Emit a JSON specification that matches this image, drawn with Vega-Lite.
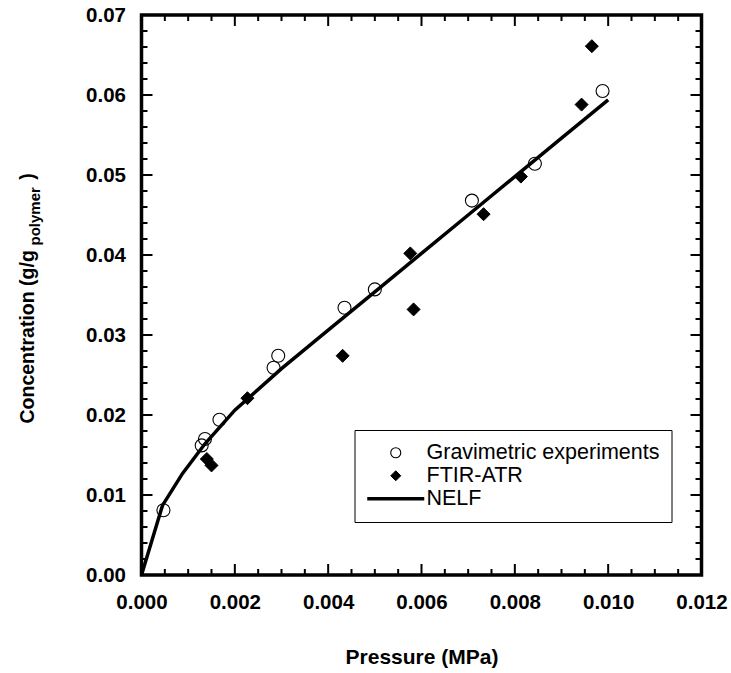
{
  "$schema": "https://vega.github.io/schema/vega-lite/v6.json",
  "width": 560,
  "height": 560,
  "autosize": {"type": "none"},
  "padding": {"left": 141.5, "top": 15, "right": 29.5, "bottom": 98},
  "background": "white",
  "config": {
    "view": {"stroke": "black", "strokeWidth": 3.5},
    "font": "Liberation Sans",
    "axis": {
      "grid": false,
      "domain": false,
      "ticks": false,
      "labelColor": "black",
      "titleColor": "black",
      "labelFont": "Liberation Sans",
      "labelFontWeight": "bold",
      "labelFontSize": 20.5,
      "titleFont": "Liberation Sans",
      "titleFontWeight": "bold",
      "labelFlush": false,
      "labelOverlap": false
    }
  },
  "datasets": {
    "nelf": [
      {"pressure": 0, "concentration": 0},
      {"pressure": 0.00045, "concentration": 0.0087},
      {"pressure": 0.00088, "concentration": 0.0127},
      {"pressure": 0.00136, "concentration": 0.0164},
      {"pressure": 0.002, "concentration": 0.0206},
      {"pressure": 0.003, "concentration": 0.0258},
      {"pressure": 0.004, "concentration": 0.0306},
      {"pressure": 0.005, "concentration": 0.0354},
      {"pressure": 0.006, "concentration": 0.0402},
      {"pressure": 0.007, "concentration": 0.045},
      {"pressure": 0.008, "concentration": 0.0498},
      {"pressure": 0.009, "concentration": 0.0546},
      {"pressure": 0.01, "concentration": 0.0594}
    ],
    "pts": [
      {"series": "Gravimetric experiments", "pressure": 0.00047, "concentration": 0.0081},
      {"series": "Gravimetric experiments", "pressure": 0.00129, "concentration": 0.0162},
      {"series": "Gravimetric experiments", "pressure": 0.00136, "concentration": 0.017},
      {"series": "Gravimetric experiments", "pressure": 0.00167, "concentration": 0.0194},
      {"series": "Gravimetric experiments", "pressure": 0.00283, "concentration": 0.0259},
      {"series": "Gravimetric experiments", "pressure": 0.00293, "concentration": 0.0274},
      {"series": "Gravimetric experiments", "pressure": 0.00435, "concentration": 0.0334},
      {"series": "Gravimetric experiments", "pressure": 0.005, "concentration": 0.0357},
      {"series": "Gravimetric experiments", "pressure": 0.00708, "concentration": 0.0468},
      {"series": "Gravimetric experiments", "pressure": 0.00843, "concentration": 0.0514},
      {"series": "Gravimetric experiments", "pressure": 0.00988, "concentration": 0.0605},
      {"series": "FTIR-ATR", "pressure": 0.0014, "concentration": 0.0145},
      {"series": "FTIR-ATR", "pressure": 0.0015, "concentration": 0.0137},
      {"series": "FTIR-ATR", "pressure": 0.00227, "concentration": 0.0221},
      {"series": "FTIR-ATR", "pressure": 0.00431, "concentration": 0.0274},
      {"series": "FTIR-ATR", "pressure": 0.00576, "concentration": 0.0402},
      {"series": "FTIR-ATR", "pressure": 0.00583, "concentration": 0.0332},
      {"series": "FTIR-ATR", "pressure": 0.00733, "concentration": 0.0451},
      {"series": "FTIR-ATR", "pressure": 0.00813, "concentration": 0.0498},
      {"series": "FTIR-ATR", "pressure": 0.00943, "concentration": 0.0588},
      {"series": "FTIR-ATR", "pressure": 0.00965, "concentration": 0.0661}
    ],
    "xmajor": [
      {"pressure": 0.002}, {"pressure": 0.004}, {"pressure": 0.006}, {"pressure": 0.008}, {"pressure": 0.01}
    ],
    "xminor": [
      {"pressure": 0.0005}, {"pressure": 0.001}, {"pressure": 0.0015},
      {"pressure": 0.0025}, {"pressure": 0.003}, {"pressure": 0.0035},
      {"pressure": 0.0045}, {"pressure": 0.005}, {"pressure": 0.0055},
      {"pressure": 0.0065}, {"pressure": 0.007}, {"pressure": 0.0075},
      {"pressure": 0.0085}, {"pressure": 0.009}, {"pressure": 0.0095},
      {"pressure": 0.0105}, {"pressure": 0.011}, {"pressure": 0.0115}
    ],
    "ymajor": [
      {"concentration": 0.01}, {"concentration": 0.02}, {"concentration": 0.03}, {"concentration": 0.04}, {"concentration": 0.05}, {"concentration": 0.06}
    ],
    "yminor": [
      {"concentration": 0.002}, {"concentration": 0.004}, {"concentration": 0.006}, {"concentration": 0.008},
      {"concentration": 0.012}, {"concentration": 0.014}, {"concentration": 0.016}, {"concentration": 0.018},
      {"concentration": 0.022}, {"concentration": 0.024}, {"concentration": 0.026}, {"concentration": 0.028},
      {"concentration": 0.032}, {"concentration": 0.034}, {"concentration": 0.036}, {"concentration": 0.038},
      {"concentration": 0.042}, {"concentration": 0.044}, {"concentration": 0.046}, {"concentration": 0.048},
      {"concentration": 0.052}, {"concentration": 0.054}, {"concentration": 0.056}, {"concentration": 0.058},
      {"concentration": 0.062}, {"concentration": 0.064}, {"concentration": 0.066}, {"concentration": 0.068}
    ]
  },
  "resolve": {"axis": {"x": "independent", "y": "independent"}},
  "layer": [
    {
      "data": {"name": "nelf"},
      "mark": {"type": "line", "color": "black", "strokeWidth": 3.5},
      "encoding": {
        "x": {
          "field": "pressure", "type": "quantitative",
          "scale": {"domain": [0, 0.012], "nice": false, "zero": false},
          "axis": {
            "orient": "bottom",
            "values": [0, 0.002, 0.004, 0.006, 0.008, 0.01, 0.012],
            "format": ".3f",
            "labelPadding": 17,
            "title": "Pressure (MPa)",
            "titleFontSize": 21,
            "titleX": 280,
            "titleY": 88,
            "titleAlign": "center",
            "titleBaseline": "alphabetic"
          }
        },
        "y": {
          "field": "concentration", "type": "quantitative",
          "scale": {"domain": [0, 0.07], "nice": false, "zero": false},
          "axis": {
            "orient": "left",
            "values": [0, 0.01, 0.02, 0.03, 0.04, 0.05, 0.06, 0.07],
            "format": ".2f",
            "labelPadding": 16,
            "title": "Concentration (g/g\u00a0\u00a0\u00a0\u00a0\u00a0\u00a0\u00a0\u00a0\u00a0\u00a0\u00a0\u00a0\u00a0)",
            "titleFontSize": 19.5,
            "titleAngle": 270,
            "titleX": -108,
            "titleY": 408,
            "titleAlign": "left",
            "titleBaseline": "alphabetic"
          }
        }
      }
    },
    {
      "data": {"name": "pts"},
      "mark": {"type": "point", "filled": true, "size": 169, "opacity": 1},
      "encoding": {
        "x": {"field": "pressure", "type": "quantitative", "scale": {"domain": [0, 0.012], "nice": false, "zero": false}, "axis": null},
        "y": {"field": "concentration", "type": "quantitative", "scale": {"domain": [0, 0.07], "nice": false, "zero": false}, "axis": null},
        "shape": {
          "field": "series", "type": "nominal",
          "scale": {"domain": ["Gravimetric experiments", "FTIR-ATR", "NELF"], "range": ["circle", "diamond", "M-5.7,0H5.7"]},
          "legend": {
            "orient": "none",
            "legendX": 213,
            "legendY": 415,
            "title": null,
            "padding": 12,
            "fillColor": "white",
            "strokeColor": "black",
            "labelFont": "Liberation Sans",
            "labelFontSize": 21.5,
            "labelFontWeight": "normal",
            "labelColor": "black",
            "labelLimit": 400,
            "symbolSize": 100,
            "symbolOffset": 18.5,
            "labelOffset": 20,
            "rowPadding": 0,
            "direction": "vertical",
            "encode": {"legend": {"update": {"strokeWidth": {"value": 2}}}}
          }
        },
        "fill": {
          "field": "series", "type": "nominal",
          "scale": {"domain": ["Gravimetric experiments", "FTIR-ATR", "NELF"], "range": ["transparent", "black", "transparent"]}
        },
        "stroke": {
          "field": "series", "type": "nominal",
          "scale": {"domain": ["Gravimetric experiments", "FTIR-ATR", "NELF"], "range": ["black", "black", "black"]}
        },
        "strokeWidth": {
          "field": "series", "type": "nominal",
          "scale": {"type": "ordinal", "domain": ["Gravimetric experiments", "FTIR-ATR", "NELF"], "range": [1.1, 1, 3.5]}
        }
      }
    },
    {
      "data": {"name": "xmajor"},
      "mark": {"type": "point", "shape": "M0,0V-2", "size": 121, "filled": false, "stroke": "black", "strokeWidth": 2, "opacity": 1},
      "encoding": {
        "x": {"field": "pressure", "type": "quantitative", "scale": {"domain": [0, 0.012], "nice": false, "zero": false}, "axis": null},
        "y": {"datum": 0, "type": "quantitative", "scale": {"domain": [0, 0.07], "nice": false, "zero": false}, "axis": null}
      }
    },
    {
      "data": {"name": "xminor"},
      "mark": {"type": "point", "shape": "M0,0V-2", "size": 36, "filled": false, "stroke": "black", "strokeWidth": 2, "opacity": 1},
      "encoding": {
        "x": {"field": "pressure", "type": "quantitative", "scale": {"domain": [0, 0.012], "nice": false, "zero": false}, "axis": null},
        "y": {"datum": 0, "type": "quantitative", "scale": {"domain": [0, 0.07], "nice": false, "zero": false}, "axis": null}
      }
    },
    {
      "data": {"name": "xmajor"},
      "mark": {"type": "point", "shape": "M0,0V2", "size": 121, "filled": false, "stroke": "black", "strokeWidth": 2, "opacity": 1},
      "encoding": {
        "x": {"field": "pressure", "type": "quantitative", "scale": {"domain": [0, 0.012], "nice": false, "zero": false}, "axis": null},
        "y": {"datum": 0.07, "type": "quantitative", "scale": {"domain": [0, 0.07], "nice": false, "zero": false}, "axis": null}
      }
    },
    {
      "data": {"name": "xminor"},
      "mark": {"type": "point", "shape": "M0,0V2", "size": 36, "filled": false, "stroke": "black", "strokeWidth": 2, "opacity": 1},
      "encoding": {
        "x": {"field": "pressure", "type": "quantitative", "scale": {"domain": [0, 0.012], "nice": false, "zero": false}, "axis": null},
        "y": {"datum": 0.07, "type": "quantitative", "scale": {"domain": [0, 0.07], "nice": false, "zero": false}, "axis": null}
      }
    },
    {
      "data": {"name": "ymajor"},
      "mark": {"type": "point", "shape": "M0,0H2", "size": 121, "filled": false, "stroke": "black", "strokeWidth": 2, "opacity": 1},
      "encoding": {
        "x": {"datum": 0, "type": "quantitative", "scale": {"domain": [0, 0.012], "nice": false, "zero": false}, "axis": null},
        "y": {
          "field": "concentration", "type": "quantitative",
          "scale": {"domain": [0, 0.07], "nice": false, "zero": false},
          "axis": {
            "orient": "left",
            "values": [0.01],
            "labels": false,
            "title": "polymer",
            "titleFontSize": 15,
            "titleAngle": 270,
            "titleX": -101.7,
            "titleY": 230,
            "titleAlign": "left",
            "titleBaseline": "alphabetic"
          }
        }
      }
    },
    {
      "data": {"name": "yminor"},
      "mark": {"type": "point", "shape": "M0,0H2", "size": 36, "filled": false, "stroke": "black", "strokeWidth": 2, "opacity": 1},
      "encoding": {
        "x": {"datum": 0, "type": "quantitative", "scale": {"domain": [0, 0.012], "nice": false, "zero": false}, "axis": null},
        "y": {"field": "concentration", "type": "quantitative", "scale": {"domain": [0, 0.07], "nice": false, "zero": false}, "axis": null}
      }
    },
    {
      "data": {"name": "ymajor"},
      "mark": {"type": "point", "shape": "M0,0H-2", "size": 121, "filled": false, "stroke": "black", "strokeWidth": 2, "opacity": 1},
      "encoding": {
        "x": {"datum": 0.012, "type": "quantitative", "scale": {"domain": [0, 0.012], "nice": false, "zero": false}, "axis": null},
        "y": {"field": "concentration", "type": "quantitative", "scale": {"domain": [0, 0.07], "nice": false, "zero": false}, "axis": null}
      }
    },
    {
      "data": {"name": "yminor"},
      "mark": {"type": "point", "shape": "M0,0H-2", "size": 36, "filled": false, "stroke": "black", "strokeWidth": 2, "opacity": 1},
      "encoding": {
        "x": {"datum": 0.012, "type": "quantitative", "scale": {"domain": [0, 0.012], "nice": false, "zero": false}, "axis": null},
        "y": {"field": "concentration", "type": "quantitative", "scale": {"domain": [0, 0.07], "nice": false, "zero": false}, "axis": null}
      }
    }
  ]
}
